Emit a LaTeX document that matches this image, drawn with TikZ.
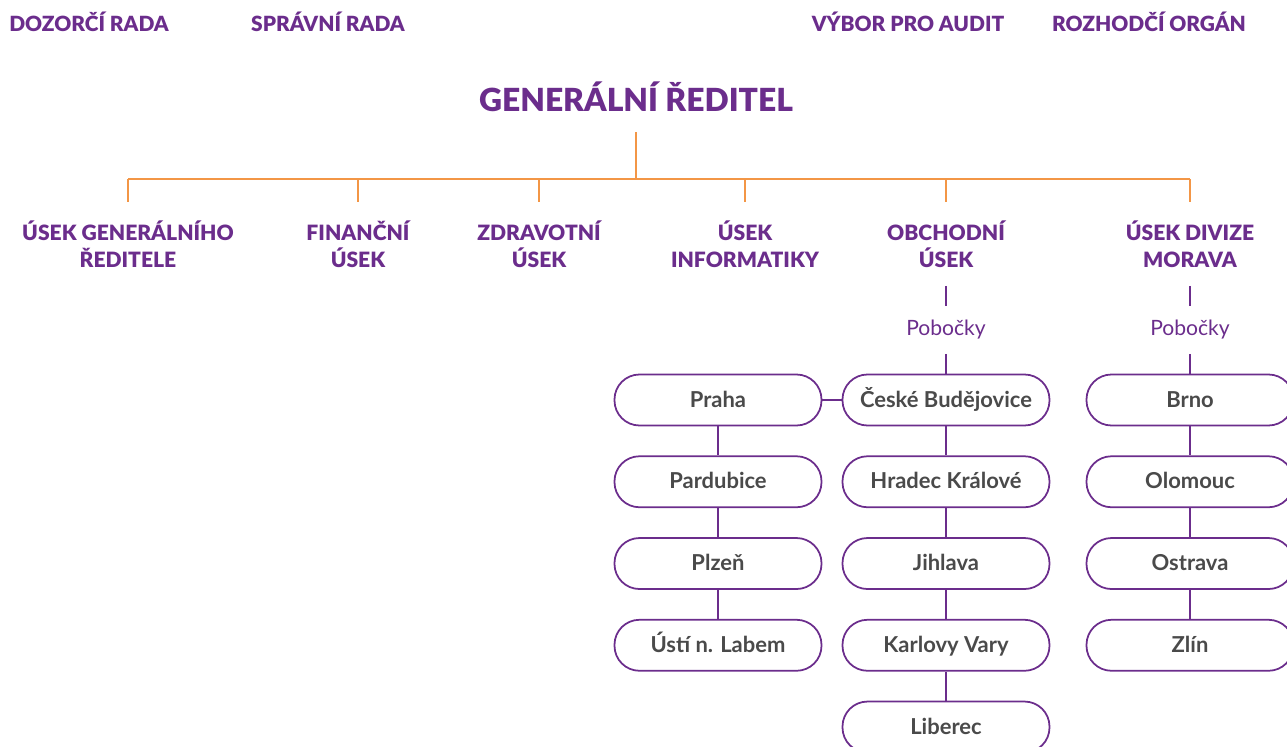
\documentclass[tikz,border=0pt]{standalone}
\usepackage{fontspec}
\setmainfont{Lato}
\newfontfamily\heavyfont{Lato Black}
\usepackage{tikz}
\usetikzlibrary{positioning}
\definecolor{mypurple}{RGB}{107,45,140}
\definecolor{myorange}{RGB}{243,150,70}
\definecolor{mygray}{RGB}{74,74,74}
\tikzset{
  board/.style={font=\fontsize{11.9}{14}\selectfont\heavyfont, text=mypurple},
  chief/.style={font=\fontsize{18.1}{20}\selectfont\heavyfont, text=mypurple},
  dept/.style={align=center, font=\fontsize{12}{15.3}\selectfont\heavyfont, text=mypurple},
  pobocky/.style={font=\fontsize{12}{14}\selectfont, text=mypurple, inner ysep=8pt},
  branch/.style={rectangle, draw=mypurple, line width=1pt, rounded corners=0.5cm,
    minimum width=4.14cm, minimum height=1.02cm,
    text height=1.1em, text depth=0.3em,
    font=\fontsize{12.5}{14}\selectfont\bfseries, text=mygray},
  orgline/.style={line width=0.85pt, color=myorange},
  purpline/.style={line width=1pt, color=mypurple}
}
\begin{document}
\begin{tikzpicture}[x=0.2mm, y=-0.2mm, node distance=0.58cm]
  \path[use as bounding box, clip] (0,0) rectangle (1287,747);

  % Boards
  \node[board] (dr) at (89,22) {DOZORČÍ RADA};
  \node[board] (sr) at (328,22) {SPRÁVNÍ RADA};
  \node[board] (vpa) at (908,22) {VÝBOR PRO AUDIT};
  \node[board] (ro) at (1149,22) {ROZHODČÍ ORGÁN};

  % Director and divisions
  \node[chief] (gr) at (636,97) {GENERÁLNÍ ŘEDITEL};
  \coordinate (bus) at (636,179);

  \node[dept] (d1) at (128,244) {ÚSEK GENERÁLNÍHO\\ŘEDITELE};
  \node[dept] (d2) at (358,244) {FINANČNÍ\\ÚSEK};
  \node[dept] (d3) at (539,244) {ZDRAVOTNÍ\\ÚSEK};
  \node[dept] (d4) at (745,244) {ÚSEK\\INFORMATIKY};
  \node[dept] (d5) at (946,244) {OBCHODNÍ\\ÚSEK};
  \node[dept] (d6) at (1190,244) {ÚSEK DIVIZE\\MORAVA};

  \draw[orgline, shorten <=8pt] (gr.south) -- (bus);
  \draw[orgline] (bus -| d1) -- (bus -| d6);
  \foreach \d in {d1,d2,d3,d4,d5,d6}
    \draw[orgline, shorten >=7pt] (bus -| \d) -- (\d.north);

  % Branches
  \node[pobocky] (pob1) at (946,330) {Pobočky};
  \node[pobocky] (pob2) at (1190,330) {Pobočky};

  \node[branch] (praha) at (718,400) {Praha};
  \node[branch, below=of praha] (pardubice) {Pardubice};
  \node[branch, below=of pardubice] (plzen) {Plzeň};
  \node[branch, below=of plzen] (usti) {Ústí n. Labem};

  \node[branch] (cbud) at (946,400) {České Budějovice};
  \node[branch, below=of cbud] (hradec) {Hradec Králové};
  \node[branch, below=of hradec] (jihlava) {Jihlava};
  \node[branch, below=of jihlava] (kvary) {Karlovy Vary};
  \node[branch, below=of kvary] (liberec) {Liberec};

  \node[branch] (brno) at (1190,400) {Brno};
  \node[branch, below=of brno] (olomouc) {Olomouc};
  \node[branch, below=of olomouc] (ostrava) {Ostrava};
  \node[branch, below=of ostrava] (zlin) {Zlín};

  \draw[purpline, shorten <=7pt] (d5) -- (pob1);
  \draw[purpline, shorten <=7pt] (d6) -- (pob2);
  \draw[purpline] (pob1) -- (cbud);
  \draw[purpline] (pob2) -- (brno);
  \draw[purpline] (praha) -- (cbud);
  \foreach \a/\b in {praha/pardubice, pardubice/plzen, plzen/usti,
    cbud/hradec, hradec/jihlava, jihlava/kvary, kvary/liberec,
    brno/olomouc, olomouc/ostrava, ostrava/zlin}
    \draw[purpline] (\a) -- (\b);

\end{tikzpicture}
\end{document}
